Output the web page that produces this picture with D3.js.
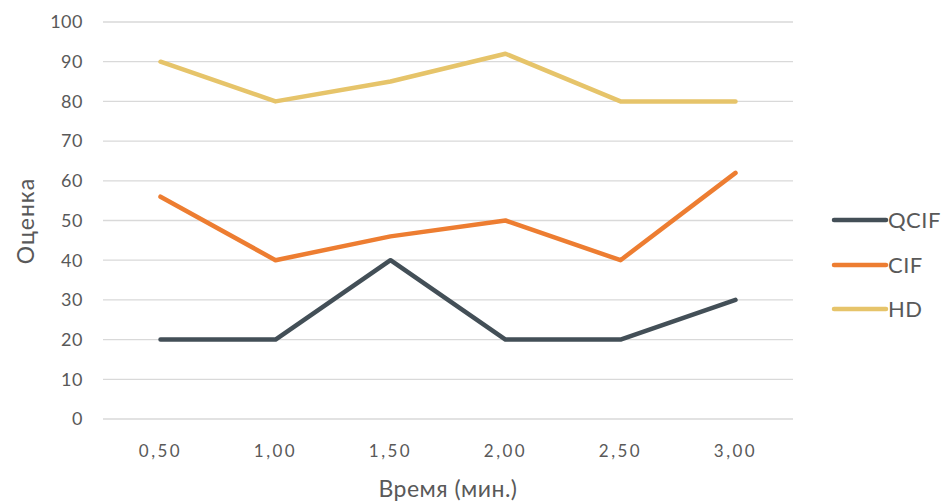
<!DOCTYPE html>
<html><head><meta charset="utf-8">
<script src="https://cdn.jsdelivr.net/npm/d3@7"></script>
<style>body{margin:0;background:#fff}svg{display:block}text{font-family:Lato,"Open Sans",sans-serif;fill:#595959}</style>
</head><body><svg id="c" width="945" height="502"></svg>
<script>
const categories = ["0,50","1,00","1,50","2,00","2,50","3,00"];
const qcif = [20,20,40,20,20,30];
const cif = [56,40,46,50,40,62];
const hd = [90,80,85,92,80,80];
const yTicks = [0,10,20,30,40,50,60,70,80,90,100];
const seriesNames = ["QCIF","CIF","HD"];
const seriesColors = ["#434F57","#ED7D31","#E6C46A"];
const series = [qcif, cif, hd];

const svg = d3.select("#c");
const x = d3.scaleBand().domain(categories).range([103,793]);
const y = d3.scaleLinear().domain([0,100]).range([419,22]);

svg.append("g").selectAll("line").data(yTicks).join("line")
  .attr("x1",103).attr("x2",793).attr("y1",d=>y(d)).attr("y2",d=>y(d))
  .attr("stroke","#d9d9d9").attr("stroke-width",1.3);

svg.append("g").selectAll("text").data(yTicks).join("text")
  .attr("x",83).attr("y",d=>y(d)).attr("dy","0.35em").attr("text-anchor","end")
  .attr("font-size",18).attr("letter-spacing","0.5px").text(d=>d);

svg.append("g").selectAll("text").data(categories).join("text")
  .attr("x",d=>x(d)+x.bandwidth()/2).attr("y",451).attr("dy","0.35em")
  .attr("text-anchor","middle").attr("font-size",17).attr("letter-spacing","2.5px").text(d=>d);

const line = d3.line().x((d,i)=>x(categories[i])+x.bandwidth()/2).y(d=>y(d));
series.forEach((s,k)=>{
  svg.append("path").datum(s).attr("d",line).attr("fill","none")
    .attr("stroke",seriesColors[k]).attr("stroke-width",4.5)
    .attr("stroke-linejoin","round").attr("stroke-linecap","round");
});

const ly = [220,265,309];
seriesNames.forEach((n,k)=>{
  svg.append("line").attr("x1",834).attr("x2",886).attr("y1",ly[k]).attr("y2",ly[k])
    .attr("stroke",seriesColors[k]).attr("stroke-width",4.5).attr("stroke-linecap","round");
  svg.append("text").attr("x",888).attr("y",ly[k]).attr("dy","0.35em")
    .attr("font-size",22).attr("letter-spacing","0.5px").text(n);
});

svg.append("text").attr("x",448).attr("y",489).attr("dy","0.35em").attr("text-anchor","middle")
  .attr("font-size",23).attr("letter-spacing","0.5px").text("Время (мин.)");
svg.append("text").attr("transform","translate(26,221) rotate(-90)").attr("dy","0.35em")
  .attr("text-anchor","middle").attr("font-size",23).attr("letter-spacing","1px").text("Оценка");
</script></body></html>
